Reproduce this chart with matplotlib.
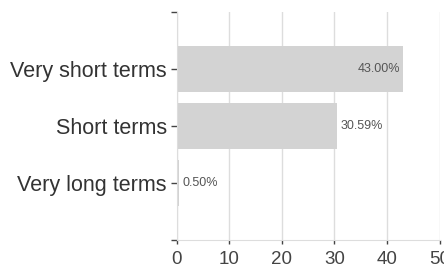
import matplotlib
matplotlib.use("Agg")
import matplotlib.pyplot as plt

categories = ["Very short terms", "Short terms", "Very long terms"]
values = [43.00, 30.59, 0.50]
value_labels = ["43.00%", "30.59%", "0.50%"]
xticks = [0, 10, 20, 30, 40, 50]

plt.rcParams['font.family'] = ['Liberation Sans', 'DejaVu Sans']

fig = plt.figure(figsize=(4.44, 2.69), dpi=100)
ax = fig.add_axes([176.5 / 444, 1 - 240 / 269, (439.5 - 176.5) / 444, 228 / 269])

pos = list(range(len(categories)))
ax.barh(pos, values, height=0.8, color="#d3d3d3", zorder=2)

for p, v, lab in zip(pos, values, value_labels):
    if v > 40:
        ax.text(v - 0.5, p, lab, ha="right", va="center", fontsize=9, color="#555555", zorder=3)
    else:
        ax.text(v + 0.6, p, lab, ha="left", va="center", fontsize=9, color="#555555", zorder=3)

ax.set_xlim(0, 50)
ax.set_ylim(3, -1)
ax.set_xticks(xticks)
ax.set_xticklabels([str(t) for t in xticks], fontsize=13.5, color="#444444")
ax.set_yticks([-1] + pos + [3])
ax.set_yticklabels([""] + categories + [""], fontsize=15.5, color="#333333")
ax.tick_params(axis="y", length=4, width=1, color="#444444", pad=3)
ax.tick_params(axis="x", length=3, width=1, color="#444444", pad=5)

ax.grid(axis="x", color="#dddddd", linewidth=1, zorder=0)
for s in ["top", "right"]:
    ax.spines[s].set_visible(False)
ax.spines["left"].set_color("#dddddd")
ax.spines["bottom"].set_color("#dddddd")

fig.savefig("out.png", dpi=100)
